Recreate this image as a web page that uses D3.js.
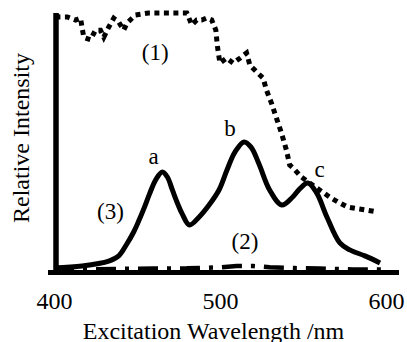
<!DOCTYPE html>
<html>
<head>
<meta charset="utf-8">
<script src="https://cdn.jsdelivr.net/npm/d3@7"></script>
<style>
  html, body { margin: 0; padding: 0; background: #fff; }
  svg { display: block; }
  text { font-family: "Liberation Serif", "Times New Roman", serif; fill: #000; }
</style>
</head>
<body>
<div id="chart"></div>
<script>
// ---- data ----
const xTicks = [400, 500, 600];
const xTitle = "Excitation Wavelength /nm";
const yTitle = "Relative Intensity";

// curve (1): dotted
const series1Wl = [401,403,408,413,416,417,418,422,425,428,430,433,436,439,442,444,449,457,470,480,
  483,486,489,492,495,497.5,498.3,499,500,504,508,512,516,518,522,526,528,531,534,537,540,542,544,549,554,560,566,571,577,584,595];
const series1Val = [0.99,0.985,0.985,0.973,0.98,0.94,0.905,0.897,0.934,0.934,0.907,0.946,0.98,0.965,0.934,0.961,0.992,1.0,1.0,1.0,
  0.954,0.973,0.973,0.981,0.973,0.934,0.88,0.846,0.807,0.826,0.807,0.826,0.846,0.799,0.773,0.749,0.703,0.653,0.595,0.538,0.472,0.414,0.403,0.368,0.345,0.318,0.291,0.272,0.252,0.245,0.233];

// curve (2): dash-dot near baseline
const series2Wl = [400,420,440,460,480,500,510,520,530,545,560,580,600];
const series2Val = [0.01,0.012,0.014,0.015,0.016,0.02,0.025,0.025,0.02,0.017,0.015,0.012,0.012];

// curve (3): solid
const series3Wl = [400,417,433,439,443.5,448,451,454.5,457.5,461.5,465.3,468.3,471.3,474.3,477.3,481.6,487.3,493.4,499.4,504.2,509,514.5,518.7,523.5,529.9,537.2,543.8,548,552.9,558.3,564.4,572.2,578.2,587.3,596.4];
const series3Val = [0.017,0.025,0.044,0.064,0.106,0.156,0.198,0.252,0.302,0.36,0.387,0.368,0.318,0.268,0.225,0.183,0.213,0.26,0.318,0.395,0.464,0.503,0.483,0.418,0.318,0.26,0.291,0.322,0.345,0.306,0.214,0.114,0.087,0.064,0.037];

const labels = [
  {t:"(1)", wl:461, v:0.82},
  {t:"(2)", wl:515, v:0.09},
  {t:"(3)", wl:434, v:0.205},
  {t:"a", wl:460, v:0.42},
  {t:"b", wl:506, v:0.526},
  {t:"c", wl:560, v:0.367}
];

// ---- layout ----
const W = 407, H = 342;
const svg = d3.select("#chart").append("svg").attr("width", W).attr("height", H);

const x = d3.scaleLinear().domain([400, 600]).range([54, 386]);
const y = d3.scaleLinear().domain([0, 1]).range([272.5, 13]);

const zip = (a, b) => a.map((d, i) => [d, b[i]]);

const line = d3.line().x(d => x(d[0])).y(d => y(d[1]));
const smooth = d3.line().x(d => x(d[0])).y(d => y(d[1])).curve(d3.curveCatmullRom.alpha(0.5));

// curve (2)
svg.append("path")
  .datum(zip(series2Wl, series2Val))
  .attr("d", line)
  .attr("fill", "none").attr("stroke", "#000")
  .attr("stroke-width", 4.5)
  .attr("stroke-dasharray", "20,9,4,9");

// curve (3)
svg.append("path")
  .datum(zip(series3Wl, series3Val))
  .attr("d", smooth)
  .attr("fill", "none").attr("stroke", "#000")
  .attr("stroke-width", 5)
  .attr("stroke-linejoin", "round");

// curve (1)
svg.append("path")
  .datum(zip(series1Wl, series1Val))
  .attr("d", line)
  .attr("fill", "none").attr("stroke", "#000")
  .attr("stroke-width", 5)
  .attr("stroke-dasharray", "5,4.5");

// x axis
const xAxis = d3.axisBottom(x).tickValues(xTicks).tickSize(0).tickFormat(d3.format("d"));
const gx = svg.append("g").attr("transform", `translate(0,${y(0)})`).call(xAxis);
gx.select(".domain").remove();
gx.selectAll(".tick text")
  .attr("y", 36.5).attr("dy", 0)
  .style("font-size", "24px")
  .style("font-family", '"Liberation Serif", "Times New Roman", serif');
gx.append("line")
  .attr("x1", x.range()[0] - 6).attr("x2", x.range()[1] + 13)
  .attr("y1", 0).attr("y2", 0)
  .attr("stroke", "#000").attr("stroke-width", 5);

// y axis
const yAxis = d3.axisLeft(y).tickValues([]).tickSizeOuter(0);
const gy = svg.append("g").attr("transform", "translate(56,0)").call(yAxis);
gy.select(".domain").attr("stroke", "#000").attr("stroke-width", 5.5)
  .attr("d", `M0,${y(0) + 2.5}V${y(1)}`);

// titles
svg.append("text")
  .attr("x", 213.5).attr("y", 339)
  .attr("text-anchor", "middle")
  .style("font-size", "24px")
  .text(xTitle);

svg.append("text")
  .attr("transform", "translate(28.5,138) rotate(-90)")
  .attr("text-anchor", "middle")
  .style("font-size", "24px")
  .text(yTitle);

// curve labels
svg.selectAll("text.lbl").data(labels).enter().append("text")
  .attr("class", "lbl")
  .attr("x", d => x(d.wl)).attr("y", d => y(d.v))
  .attr("text-anchor", "middle")
  .style("font-size", "23px")
  .text(d => d.t);
</script>
</body>
</html>
